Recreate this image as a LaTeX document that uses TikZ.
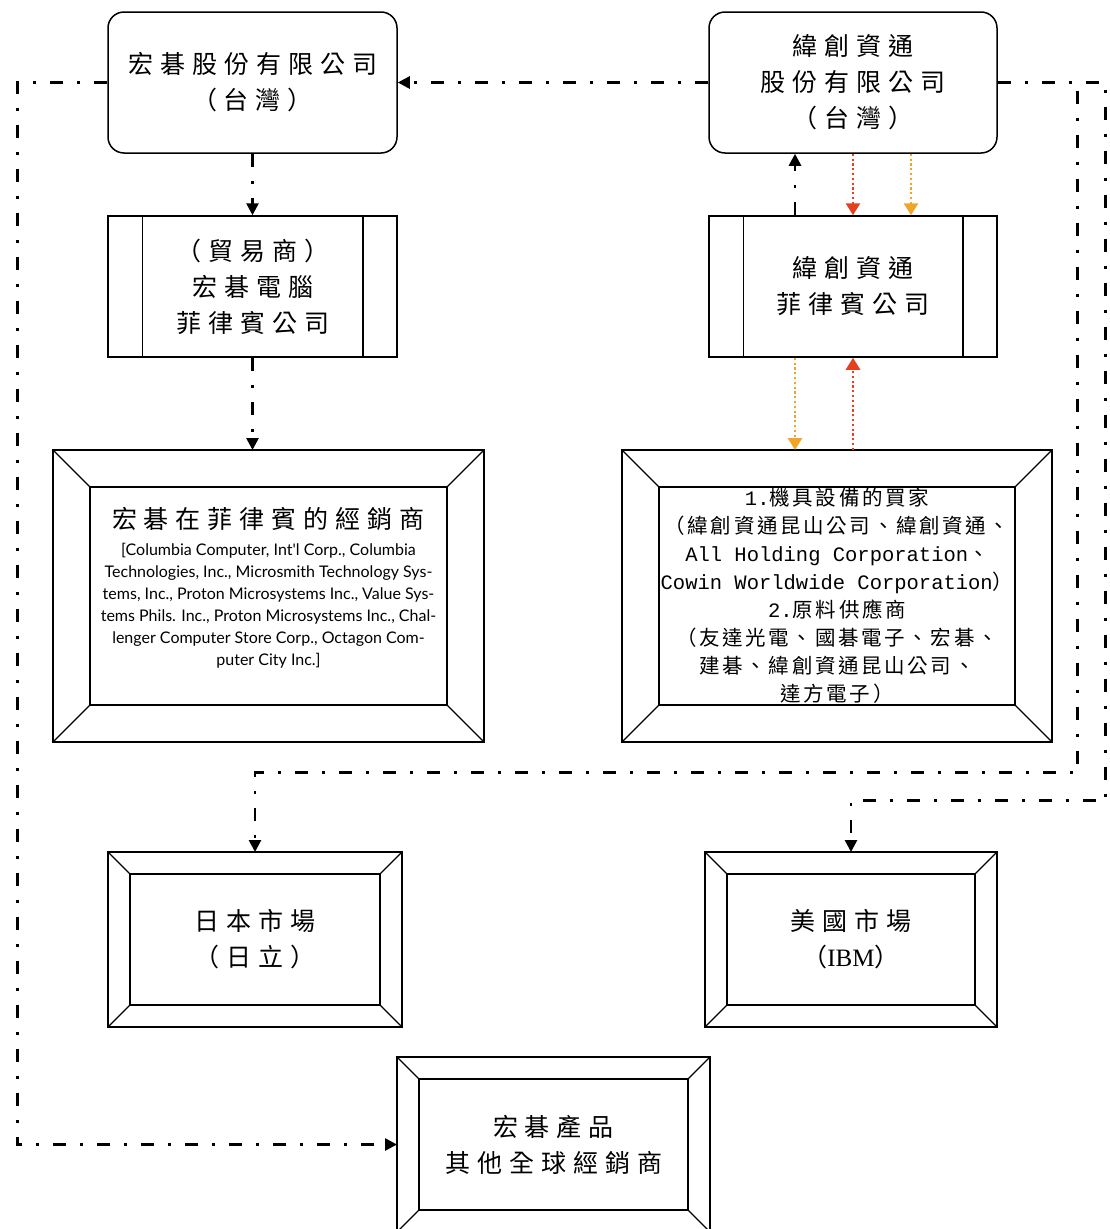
\documentclass[tikz,border=0pt]{standalone}
\usepackage{fontspec}
\setmainfont{Noto Sans CJK TC}
\newfontfamily\cjkwide{Noto Sans CJK TC}[LetterSpace=28]
\newfontfamily\cjkmid{Noto Sans CJK TC}[LetterSpace=13]
\newfontfamily\latinsans{Lato}
\newfontfamily\latinmono{Liberation Mono}
\newfontfamily\latinserif{Liberation Serif}
\usetikzlibrary{arrows.meta}

\definecolor{flowred}{RGB}{226,64,30}
\definecolor{floworange}{RGB}{240,164,40}

\tikzset{
  flowline/.style={line width=2.6pt, dash pattern=on 13pt off 14pt on 3pt off 14pt, -{Triangle[length=12pt,width=12pt]}},
  dotline/.style={line width=2.8pt, dash pattern=on 2.2pt off 2.6pt, -{Triangle[length=12pt,width=14pt]}},
  roundbox/.style={draw, line width=1.5pt, rounded corners=16pt, minimum width=289pt, minimum height=141pt, align=center, inner sep=0pt, font=\cjkwide\fontsize{25}{36}\selectfont},
  procbox/.style={draw, line width=1.5pt, minimum width=289pt, minimum height=141pt, align=center, inner sep=0pt, font=\cjkwide\fontsize{25}{36}\selectfont},
  framebox/.style={draw, line width=1.6pt, inner sep=0pt, outer sep=0pt, align=center, font=\cjkwide\fontsize{25}{36}\selectfont},
  frameline/.style={line width=1.6pt},
  bevelline/.style={line width=1.2pt}
}

% inner rectangle and corner bevels of a picture frame
\newcommand\bevelframe[2]{%
  \draw[frameline] ([shift={(#2,#2)}]#1.north west) rectangle ([shift={(-#2,-#2)}]#1.south east);
  \foreach \corner/\sx/\sy in {north west/1/1,north east/-1/1,south west/1/-1,south east/-1/-1}
    \draw[bevelline] (#1.\corner) -- ++(\sx*#2,\sy*#2);
}

% side bars of a process box
\newcommand\sidebars[2]{%
  \draw[line width=1.5pt] ([xshift=#2]#1.north west) -- ([xshift=#2]#1.south west);
  \draw[line width=1.5pt] ([xshift=-#2]#1.north east) -- ([xshift=-#2]#1.south east);
}

\begin{document}
\begin{tikzpicture}[x=1pt,y=1pt,yscale=-1,xscale=1]
        \clip (0,0) rectangle (1109,1229);

        %Shape: Rounded Rect [acer]
        \node[roundbox] (acer) at (252.5,82.5) {宏碁股份有限公司\\（台灣）};
        %Shape: Rounded Rect [wistron]
        \node[roundbox, minimum width=288pt] (wistron) at (853,82.5) {緯創資通\\股份有限公司\\（台灣）};

        %Shape: Process [acerph]
        \node[procbox] (acerph) at (252.5,286.5) {（貿易商）\\宏碁電腦\\菲律賓公司};
        \sidebars{acerph}{35pt}
        %Shape: Process [wistronph]
        \node[procbox, minimum width=288pt] (wistronph) at (853,286.5) {緯創資通\\菲律賓公司};
        \sidebars{wistronph}{35pt}

        %Shape: Frame [dealers]
        \node[framebox, minimum width=431pt, minimum height=292pt] (dealers) at (268.5,596) {宏碁在菲律賓的經銷商\\[8pt]
          {\latinsans\fontsize{16}{22}\selectfont
          \begin{tabular}{@{}c@{}}
          [Columbia Computer, Int'l Corp., Columbia\\
          Technologies, Inc., Microsmith Technology Sys-\\
          tems, Inc., Proton Microsystems Inc., Value Sys-\\
          tems Phils. Inc., Proton Microsystems Inc., Chal-\\
          lenger Computer Store Corp., Octagon Com-\\
          puter City Inc.]
          \end{tabular}}\\[12pt]};
        \bevelframe{dealers}{37}
        %Shape: Frame [partners]
        \node[framebox, minimum width=430pt, minimum height=292pt, font=\cjkmid\fontsize{20.5}{28}\selectfont] (partners) at (837,596) {{\latinmono 1.}機具設備的買家\\
          （緯創資通昆山公司、緯創資通、\\
          {\latinmono All Holding Corporation}、\\
          {\latinmono Cowin Worldwide Corporation}）\\
          {\latinmono 2.}原料供應商\\
          （友達光電、國碁電子、宏碁、\\
          建碁、緯創資通昆山公司、\\
          達方電子）};
        \bevelframe{partners}{37}

        %Shape: Frame [japan]
        \node[framebox, minimum width=294pt, minimum height=175pt] (japan) at (255,939.5) {日本市場\\（日立）};
        \bevelframe{japan}{22}
        %Shape: Frame [usa]
        \node[framebox, minimum width=292pt, minimum height=175pt] (usa) at (851,939.5) {美國市場\\（{\latinserif IBM}）};
        \bevelframe{usa}{22}
        %Shape: Frame [global]
        \node[framebox, minimum width=313pt, minimum height=175pt] (global) at (553.5,1144.5) {宏碁產品\\其他全球經銷商};
        \bevelframe{global}{22}

        %Lines
        \draw[flowline] (wistron.west) -- (acer.east);
        \draw[flowline] (acer.west) -- ++(-90,0) |- (global.west);
        \draw[flowline] (acer.south) -- (acerph.north);
        \draw[flowline] (acerph.south) -- (acerph.south |- dealers.north);
        \draw[flowline] ([xshift=-58pt]wistronph.north) -- ([xshift=-58pt]wistron.south);
        \draw[flowline] (wistron.east) -- ++(80,0) -- ++(0,690) -| (japan.north);
        \draw[flowline] (wistron.east) -- ++(108,0) -- ++(0,718) -| (usa.north);

        %Dotted Lines
        \draw[dotline, flowred] (wistron.south) -- (wistronph.north);
        \draw[dotline, floworange] ([xshift=58pt]wistron.south) -- ([xshift=58pt]wistronph.north);
        \draw[dotline, floworange] ([xshift=-58pt]wistronph.south) -- ([xshift=-58pt]wistronph.south |- partners.north);
        \draw[dotline, flowred] (wistronph.south |- partners.north) -- (wistronph.south);

\end{tikzpicture}
\end{document}
